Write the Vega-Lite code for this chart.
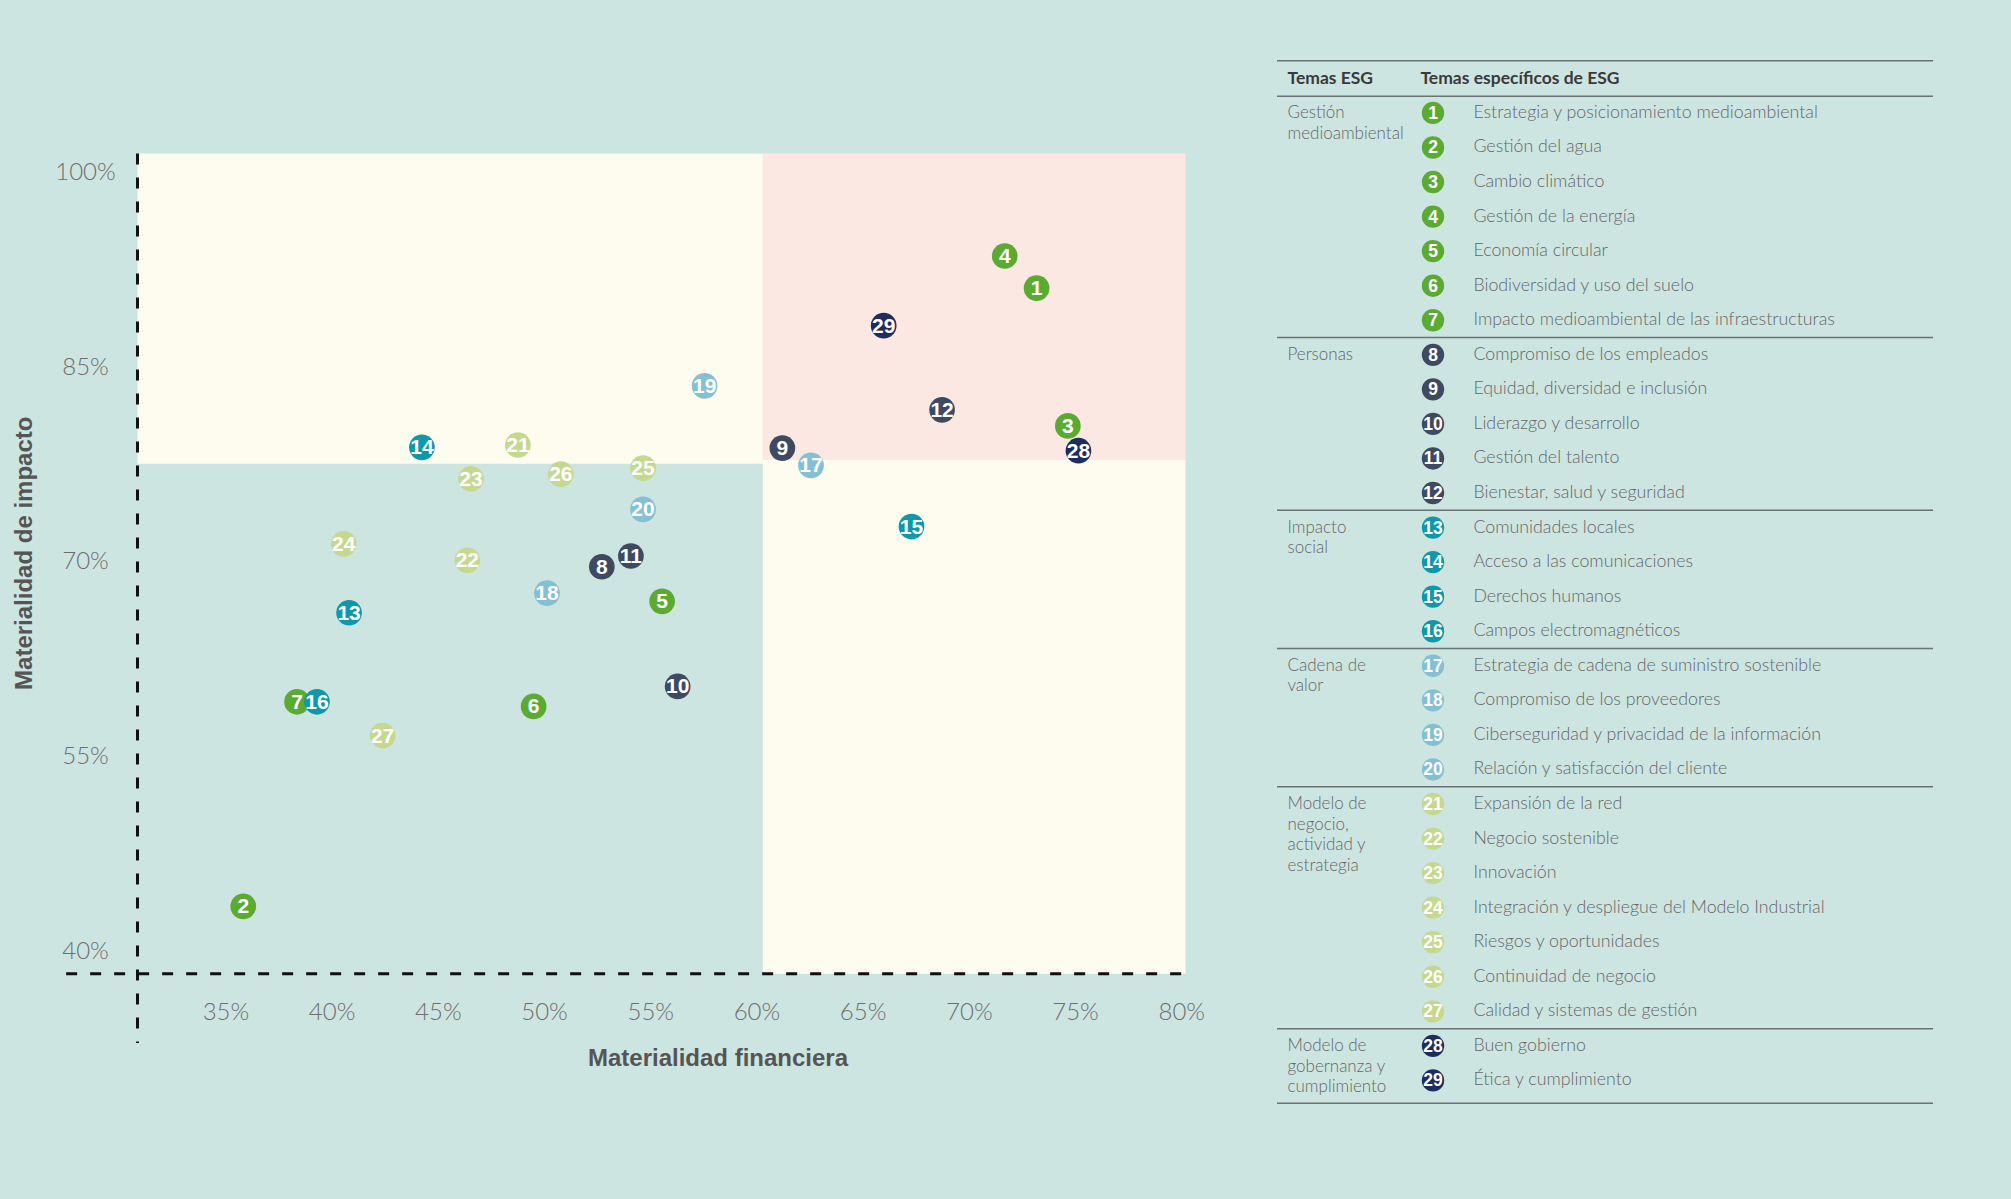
{
  "$schema": "https://vega.github.io/schema/vega-lite/v6.json",
  "background": "#cde5e1",
  "padding": {"left": 12.5, "top": 59.75, "right": 78, "bottom": 96},
  "spacing": 91.5,
  "bounds": "flush",
  "config": {
    "view": {"stroke": null},
    "axis": {
      "domain": false, "ticks": false, "tickSize": 0, "grid": false,
      "labelFont": "Lato", "labelFontWeight": 300, "labelFontSize": 24, "labelColor": "#6e6e6e",
      "titleFont": "Liberation Sans", "titleFontWeight": "bold", "titleFontSize": 24, "titleColor": "#555555",
      "labelOverlap": false, "labelFlush": false
    }
  },
  "datasets": {
    "temas": [
      {"id": 1, "tema": "Estrategia y posicionamiento medioambiental", "grupo": "Gestión medioambiental", "fin": 73.19, "imp": 91.08},
      {"id": 2, "tema": "Gestión del agua", "grupo": "Gestión medioambiental", "fin": 35.84, "imp": 43.46},
      {"id": 3, "tema": "Cambio climático", "grupo": "Gestión medioambiental", "fin": 74.66, "imp": 80.47},
      {"id": 4, "tema": "Gestión de la energía", "grupo": "Gestión medioambiental", "fin": 71.69, "imp": 93.56},
      {"id": 5, "tema": "Economía circular", "grupo": "Gestión medioambiental", "fin": 55.56, "imp": 66.96},
      {"id": 6, "tema": "Biodiversidad y uso del suelo", "grupo": "Gestión medioambiental", "fin": 49.51, "imp": 58.86},
      {"id": 7, "tema": "Impacto medioambiental de las infraestructuras", "grupo": "Gestión medioambiental", "fin": 38.37, "imp": 59.22},
      {"id": 8, "tema": "Compromiso de los empleados", "grupo": "Personas", "fin": 52.72, "imp": 69.62},
      {"id": 9, "tema": "Equidad, diversidad e inclusión", "grupo": "Personas", "fin": 61.22, "imp": 78.76},
      {"id": 10, "tema": "Liderazgo y desarrollo", "grupo": "Personas", "fin": 56.29, "imp": 60.4},
      {"id": 11, "tema": "Gestión del talento", "grupo": "Personas", "fin": 54.09, "imp": 70.45},
      {"id": 12, "tema": "Bienestar, salud y seguridad", "grupo": "Personas", "fin": 68.74, "imp": 81.71},
      {"id": 13, "tema": "Comunidades locales", "grupo": "Impacto social", "fin": 40.82, "imp": 66.08},
      {"id": 14, "tema": "Acceso a las comunicaciones", "grupo": "Impacto social", "fin": 44.25, "imp": 78.82},
      {"id": 15, "tema": "Derechos humanos", "grupo": "Impacto social", "fin": 67.3, "imp": 72.72},
      {"id": 16, "tema": "Campos electromagnéticos", "grupo": "Impacto social", "fin": 39.31, "imp": 59.22},
      {"id": 17, "tema": "Estrategia de cadena de suministro sostenible", "grupo": "Cadena de valor", "fin": 62.57, "imp": 77.43},
      {"id": 18, "tema": "Compromiso de los proveedores", "grupo": "Cadena de valor", "fin": 50.14, "imp": 67.59},
      {"id": 19, "tema": "Ciberseguridad y privacidad de la información", "grupo": "Cadena de valor", "fin": 57.56, "imp": 83.56},
      {"id": 20, "tema": "Relación y satisfacción del cliente", "grupo": "Cadena de valor", "fin": 54.66, "imp": 74.04},
      {"id": 21, "tema": "Expansión de la red", "grupo": "Modelo de negocio, actividad y estrategia", "fin": 48.77, "imp": 79.0},
      {"id": 22, "tema": "Negocio sostenible", "grupo": "Modelo de negocio, actividad y estrategia", "fin": 46.39, "imp": 70.12},
      {"id": 23, "tema": "Innovación", "grupo": "Modelo de negocio, actividad y estrategia", "fin": 46.56, "imp": 76.4},
      {"id": 24, "tema": "Integración y despliegue del Modelo Industrial", "grupo": "Modelo de negocio, actividad y estrategia", "fin": 40.57, "imp": 71.39},
      {"id": 25, "tema": "Riesgos y oportunidades", "grupo": "Modelo de negocio, actividad y estrategia", "fin": 54.66, "imp": 77.22},
      {"id": 26, "tema": "Continuidad de negocio", "grupo": "Modelo de negocio, actividad y estrategia", "fin": 50.79, "imp": 76.75},
      {"id": 27, "tema": "Calidad y sistemas de gestión", "grupo": "Modelo de negocio, actividad y estrategia", "fin": 42.4, "imp": 56.62},
      {"id": 28, "tema": "Buen gobierno", "grupo": "Modelo de gobernanza y cumplimiento", "fin": 75.16, "imp": 78.56},
      {"id": 29, "tema": "Ética y cumplimiento", "grupo": "Modelo de gobernanza y cumplimiento", "fin": 65.99, "imp": 88.19}
    ],
    "grupos": [
      {"grupo": "Gestión medioambiental", "etiqueta": "Gestión\nmedioambiental", "primero": 1, "ultimo": 7},
      {"grupo": "Personas", "etiqueta": "Personas", "primero": 8, "ultimo": 12},
      {"grupo": "Impacto social", "etiqueta": "Impacto\nsocial", "primero": 13, "ultimo": 16},
      {"grupo": "Cadena de valor", "etiqueta": "Cadena de\nvalor", "primero": 17, "ultimo": 20},
      {"grupo": "Modelo de negocio, actividad y estrategia", "etiqueta": "Modelo de\nnegocio,\nactividad y\nestrategia", "primero": 21, "ultimo": 27},
      {"grupo": "Modelo de gobernanza y cumplimiento", "etiqueta": "Modelo de\ngobernanza y\ncumplimiento", "primero": 28, "ultimo": 29}
    ],
    "uno": [{}]
  },
  "hconcat": [
    {
      "width": 1048,
      "height": 913,
      "layer": [
        {
          "data": {"values": [
            {"x1": 30.86, "x2": 60.3, "y1": 77.55, "y2": 101.46},
            {"x1": 60.3, "x2": 80.2, "y1": 38.27, "y2": 77.89}
          ]},
          "mark": {"type": "rect", "fill": "#fefcee"},
          "encoding": {
            "x": {"field": "x1", "type": "quantitative", "title": "Materialidad financiera",
                  "scale": {"domain": [30.86, 80.2], "nice": false, "zero": false},
                  "axis": {"values": [35, 40, 45, 50, 55, 60, 65, 70, 75, 80], "labelExpr": "datum.value + '%'", "labelPadding": 27,
                           "titleX": 580, "titleY": 73, "titleBaseline": "top", "titleAlign": "center"}},
            "x2": {"field": "x2"},
            "y": {"field": "y1", "type": "quantitative", "title": "Materialidad de impacto",
                  "scale": {"domain": [38.27, 108.6], "nice": false, "zero": false},
                  "axis": {"values": [40, 55, 70, 85, 100], "labelExpr": "datum.value + '%'", "labelPadding": 52.5, "labelAlign": "center", "labelBaseline": "middle",
                           "titleX": -113, "titleY": 492, "titleBaseline": "middle", "titleAlign": "center", "titleAngle": 270}},
            "y2": {"field": "y2"}
          }
        },
        {
          "data": {"name": "uno"},
          "mark": {"type": "rect", "fill": "#fbe8e2"},
          "encoding": {
            "x": {"datum": 60.3, "type": "quantitative", "title": "Materialidad financiera"},
            "x2": {"datum": 80.2},
            "y": {"datum": 77.89, "type": "quantitative", "title": "Materialidad de impacto"},
            "y2": {"datum": 101.46}
          }
        },
        {
          "data": {"name": "uno"},
          "mark": {"type": "rule", "stroke": "#111111", "strokeWidth": 3, "strokeDash": [11, 13]},
          "encoding": {
            "x": {"datum": 30.86, "type": "quantitative", "title": "Materialidad financiera"},
            "y": {"datum": 101.46, "type": "quantitative", "title": "Materialidad de impacto"},
            "y2": {"datum": 32.93}
          }
        },
        {
          "data": {"name": "uno"},
          "mark": {"type": "rule", "stroke": "#111111", "strokeWidth": 3, "strokeDash": [11, 13]},
          "encoding": {
            "y": {"datum": 38.27, "type": "quantitative", "title": "Materialidad de impacto"},
            "x": {"datum": 27.5, "type": "quantitative", "title": "Materialidad financiera"},
            "x2": {"datum": 80.45}
          }
        },
        {
          "data": {"name": "temas"},
          "mark": {"type": "circle", "size": 660, "opacity": 1},
          "encoding": {
            "x": {"field": "fin", "type": "quantitative", "title": "Materialidad financiera"},
            "y": {"field": "imp", "type": "quantitative", "title": "Materialidad de impacto"},
            "color": {"field": "grupo", "type": "nominal", "legend": null,
                      "scale": {"domain": ["Gestión medioambiental", "Personas", "Impacto social", "Cadena de valor", "Modelo de negocio, actividad y estrategia", "Modelo de gobernanza y cumplimiento"],
                                "range": ["#5bab32", "#3e4a5f", "#0e98a9", "#84c0d2", "#c4d98f", "#1f2d5e"]}},
            "order": {"field": "id", "type": "quantitative"}
          }
        },
        {
          "data": {"name": "temas"},
          "mark": {"type": "text", "color": "#ffffff", "font": "Liberation Sans Narrow, Liberation Sans, sans-serif", "fontWeight": "bold", "fontSize": 21, "align": "center", "baseline": "middle", "dy": 1},
          "encoding": {
            "x": {"field": "fin", "type": "quantitative", "title": "Materialidad financiera"},
            "y": {"field": "imp", "type": "quantitative", "title": "Materialidad de impacto"},
            "text": {"field": "id", "type": "nominal"}
          }
        }
      ]
    },
    {
      "width": 656,
      "height": 1042.5,
      "layer": [
        {
          "data": {"name": "uno"},
          "mark": {"type": "rule", "stroke": "#6a7373", "strokeWidth": 1.5},
          "encoding": {
            "x": {"datum": 0, "type": "quantitative", "scale": {"domain": [0, 1], "nice": false, "zero": false}, "axis": null},
            "x2": {"datum": 1},
            "y": {"datum": -0.51, "type": "quantitative", "scale": {"domain": [-0.51, 29.66], "nice": false, "zero": false, "reverse": true}, "axis": null}
          }
        },
        {
          "data": {"name": "uno"},
          "mark": {"type": "rule", "stroke": "#6a7373", "strokeWidth": 1.5},
          "encoding": {
            "x": {"datum": 0, "type": "quantitative", "axis": null},
            "x2": {"datum": 1},
            "y": {"datum": 0.52, "type": "quantitative", "axis": null}
          }
        },
        {
          "data": {"name": "uno"},
          "mark": {"type": "rule", "stroke": "#6a7373", "strokeWidth": 1.5},
          "encoding": {
            "x": {"datum": 0, "type": "quantitative", "axis": null},
            "x2": {"datum": 1},
            "y": {"datum": 29.66, "type": "quantitative", "axis": null}
          }
        },
        {
          "data": {"name": "grupos"},
          "transform": [{"filter": "datum.ultimo < 29"}],
          "mark": {"type": "rule", "stroke": "#6a7373", "strokeWidth": 1.5, "yOffset": 17.3},
          "encoding": {
            "x": {"datum": 0, "type": "quantitative", "axis": null},
            "x2": {"datum": 1},
            "y": {"field": "ultimo", "type": "quantitative", "axis": null}
          }
        },
        {
          "data": {"name": "uno"},
          "mark": {"type": "text", "font": "Lato", "fontWeight": "bold", "fontSize": 17.5, "color": "#3a3a3a", "align": "left", "baseline": "middle"},
          "encoding": {
            "x": {"datum": 0.016, "type": "quantitative", "axis": null},
            "y": {"datum": 0.03, "type": "quantitative", "axis": null},
            "text": {"value": "Temas ESG"}
          }
        },
        {
          "data": {"name": "uno"},
          "mark": {"type": "text", "font": "Lato", "fontWeight": "bold", "fontSize": 17.5, "color": "#3a3a3a", "align": "left", "baseline": "middle"},
          "encoding": {
            "x": {"datum": 0.2187, "type": "quantitative", "axis": null},
            "y": {"datum": 0.03, "type": "quantitative", "axis": null},
            "text": {"value": "Temas específicos de ESG"}
          }
        },
        {
          "data": {"name": "grupos"},
          "mark": {"type": "text", "font": "Lato", "fontWeight": 300, "fontSize": 17, "color": "#666666", "align": "left", "baseline": "top", "dy": -8, "lineBreak": "\n", "lineHeight": 20.7},
          "encoding": {
            "x": {"datum": 0.016, "type": "quantitative", "axis": null},
            "y": {"field": "primero", "type": "quantitative", "axis": null},
            "text": {"field": "etiqueta", "type": "nominal"}
          }
        },
        {
          "data": {"name": "temas"},
          "mark": {"type": "circle", "size": 500, "opacity": 1},
          "encoding": {
            "x": {"datum": 0.2378, "type": "quantitative", "axis": null},
            "y": {"field": "id", "type": "quantitative", "axis": null},
            "color": {"field": "grupo", "type": "nominal", "legend": null,
                      "scale": {"domain": ["Gestión medioambiental", "Personas", "Impacto social", "Cadena de valor", "Modelo de negocio, actividad y estrategia", "Modelo de gobernanza y cumplimiento"],
                                "range": ["#5bab32", "#3e4a5f", "#0e98a9", "#84c0d2", "#c4d98f", "#1f2d5e"]}}
          }
        },
        {
          "data": {"name": "temas"},
          "mark": {"type": "text", "color": "#ffffff", "font": "Liberation Sans Narrow, Liberation Sans, sans-serif", "fontWeight": "bold", "fontSize": 17.5, "align": "center", "baseline": "middle", "dy": 1},
          "encoding": {
            "x": {"datum": 0.2378, "type": "quantitative", "axis": null},
            "y": {"field": "id", "type": "quantitative", "axis": null},
            "text": {"field": "id", "type": "nominal"}
          }
        },
        {
          "data": {"name": "temas"},
          "mark": {"type": "text", "font": "Lato", "fontWeight": 300, "fontSize": 17.8, "color": "#666666", "align": "left", "baseline": "middle"},
          "encoding": {
            "x": {"datum": 0.2994, "type": "quantitative", "axis": null},
            "y": {"field": "id", "type": "quantitative", "axis": null},
            "text": {"field": "tema", "type": "nominal"}
          }
        }
      ]
    }
  ]
}
